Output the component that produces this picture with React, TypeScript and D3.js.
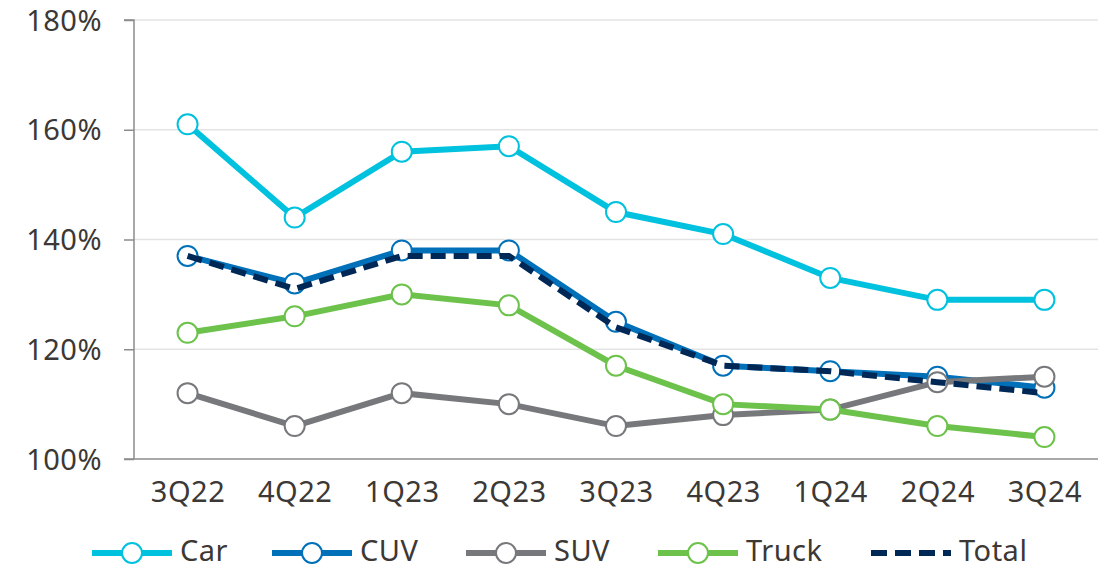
import React, { useEffect, useRef } from "react";
import * as d3 from "d3";

const quarters = ["3Q22", "4Q22", "1Q23", "2Q23", "3Q23", "4Q23", "1Q24", "2Q24", "3Q24"];
const carValues = [161, 144, 156, 157, 145, 141, 133, 129, 129];
const cuvValues = [137, 132, 138, 138, 125, 117, 116, 115, 113];
const suvValues = [112, 106, 112, 110, 106, 108, 109, 114, 115];
const truckValues = [123, 126, 130, 128, 117, 110, 109, 106, 104];
const totalValues = [137, 131, 137, 137, 124, 117, 116, 114, 112];
const yTicks = [100, 120, 140, 160, 180];

type Series = { name: string; values: number[]; color: string; dashed: boolean };

const series: Series[] = [
  { name: "Car", values: carValues, color: "#00c1de", dashed: false },
  { name: "CUV", values: cuvValues, color: "#0070b9", dashed: false },
  { name: "SUV", values: suvValues, color: "#77787b", dashed: false },
  { name: "Truck", values: truckValues, color: "#6cc24a", dashed: false },
  { name: "Total", values: totalValues, color: "#002856", dashed: true },
];

const W = 1109;
const H = 570;
const FONT = "'Noto Sans', sans-serif";
const TEXT = "#3b3835";
const FS = 29;

const App = () => {
  const ref = useRef<SVGSVGElement>(null);

  useEffect(() => {
    const svg = d3.select(ref.current);
    svg.selectAll("*").remove();

    const left = 134, right = 1098, top = 20, bottom = 459;

    const x = d3.scalePoint<string>().domain(quarters).range([left, right]).padding(0.5);
    const y = d3.scaleLinear().domain([100, 180]).range([bottom, top]);

    // gridlines
    svg.append("g")
      .selectAll("line")
      .data(yTicks.filter((t) => t !== 100))
      .join("line")
      .attr("x1", left)
      .attr("x2", right)
      .attr("y1", (d) => y(d))
      .attr("y2", (d) => y(d))
      .attr("stroke", "#e3e3e3")
      .attr("stroke-width", 1.5);

    // y axis
    const yAxis = svg.append("g").attr("transform", `translate(${left},0)`)
      .call(d3.axisLeft(y).tickValues(yTicks).tickSize(10).tickPadding(22).tickFormat((d) => `${d}%`));
    yAxis.select(".domain").attr("stroke", "#8c8c8c").attr("stroke-width", 1.5).attr("d", `M-10,${top}H0V${bottom}`);
    yAxis.selectAll(".tick line").attr("stroke", "#8c8c8c").attr("stroke-width", 1.5);
    yAxis.selectAll(".tick text")
      .attr("fill", TEXT)
      .attr("font-family", FONT)
      .attr("font-size", FS)
      .attr("letter-spacing", 0.5)
      .attr("dy", "0.35em");

    // x axis
    const xAxis = svg.append("g").attr("transform", `translate(0,${bottom})`)
      .call(d3.axisBottom(x).tickSize(0).tickPadding(22));
    xAxis.select(".domain").attr("stroke", "#8c8c8c").attr("stroke-width", 1.5).attr("d", `M${left - 10},0H${right}`);
    xAxis.selectAll(".tick text")
      .attr("fill", TEXT)
      .attr("font-family", FONT)
      .attr("font-size", FS)
      .attr("letter-spacing", 0.5)
      .attr("dy", "0.71em");

    const line = d3.line<number>()
      .x((_, i) => x(quarters[i]) as number)
      .y((d) => y(d));

    series.forEach((s) => {
      const g = svg.append("g");
      g.append("path")
        .datum(s.values)
        .attr("fill", "none")
        .attr("stroke", s.color)
        .attr("stroke-width", 6)
        .attr("stroke-dasharray", s.dashed ? "15 8" : null)
        .attr("d", line);
      if (!s.dashed) {
        g.selectAll("circle")
          .data(s.values)
          .join("circle")
          .attr("cx", (_, i) => x(quarters[i]) as number)
          .attr("cy", (d) => y(d))
          .attr("r", 10)
          .attr("fill", "#fff")
          .attr("stroke", s.color)
          .attr("stroke-width", 2);
      }
    });

    // legend
    const legendX = [92, 272, 466, 658, 871];
    const legendY = 553;
    series.forEach((s, i) => {
      const lx = legendX[i];
      const g = svg.append("g");
      g.append("line")
        .attr("x1", lx)
        .attr("x2", lx + 80)
        .attr("y1", legendY)
        .attr("y2", legendY)
        .attr("stroke", s.color)
        .attr("stroke-width", 6)
        .attr("stroke-dasharray", s.dashed ? "16 8" : null);
      if (!s.dashed) {
        g.append("circle")
          .attr("cx", lx + 40)
          .attr("cy", legendY)
          .attr("r", 10)
          .attr("fill", "#fff")
          .attr("stroke", s.color)
          .attr("stroke-width", 2);
      }
      g.append("text")
        .attr("x", lx + 88)
        .attr("y", legendY - 2)
        .attr("dy", "0.35em")
        .attr("fill", TEXT)
        .attr("font-family", FONT)
        .attr("font-size", FS)
        .attr("letter-spacing", 0.5)
        .text(s.name);
    });
  }, []);

  return (
    <svg ref={ref} width={W} height={H} style={{ position: "absolute", left: 0, top: 0 }} />
  );
};

export default App;
